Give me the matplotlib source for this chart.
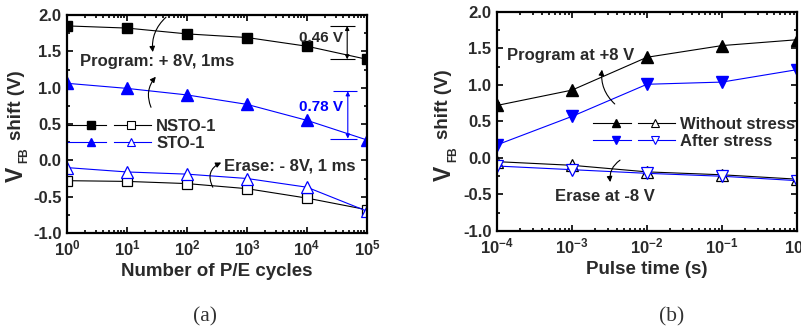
import numpy as np
import matplotlib.pyplot as plt
from matplotlib.lines import Line2D
from matplotlib.legend_handler import HandlerBase
from matplotlib.ticker import LogLocator, MultipleLocator, FuncFormatter, FormatStrFormatter, NullFormatter

plt.rcParams['font.family'] = ['Liberation Sans', 'DejaVu Sans']
plt.rcParams['font.weight'] = 'bold'
plt.rcParams['axes.labelweight'] = 'bold'
plt.rcParams['mathtext.fontset'] = 'custom'
plt.rcParams['mathtext.rm'] = 'Liberation Sans:bold'
plt.rcParams['mathtext.it'] = 'Liberation Sans:bold:italic'
plt.rcParams['mathtext.bf'] = 'Liberation Sans:bold'
plt.rcParams['axes.unicode_minus'] = False

TXT = '#2a2a2a'
BLUE = '#0000ff'

# (a) endurance
cycles = [1, 1e1, 1e2, 1e3, 1e4, 1e5]
nsto_prog = [1.85, 1.82, 1.74, 1.69, 1.57, 1.39]
nsto_erase = [-0.28, -0.29, -0.32, -0.39, -0.52, -0.68]
sto_prog = [1.06, 0.99, 0.90, 0.77, 0.55, 0.28]
sto_erase = [-0.10, -0.16, -0.19, -0.25, -0.37, -0.70]

# (b) pulse time
pulse = [1e-4, 1e-3, 1e-2, 1e-1, 1]
wo_prog = [0.72, 0.93, 1.38, 1.54, 1.62]
wo_erase = [-0.05, -0.10, -0.19, -0.23, -0.29]
as_prog = [0.18, 0.57, 1.01, 1.04, 1.21]
as_erase = [-0.11, -0.16, -0.21, -0.25, -0.31]


class PairHandler(HandlerBase):
    """legend entry: -filled- -- -open- like the original figure"""
    def create_artists(self, legend, orig_handle, xdescent, ydescent,
                       width, height, fontsize, trans):
        c = orig_handle.get_color()
        m = orig_handle.get_marker()
        y = height / 2 - ydescent
        x0 = -xdescent
        w = width
        s1 = Line2D([x0, x0 + 0.46 * w], [y, y], color=c, lw=0.8)
        s2 = Line2D([x0 + 0.55 * w, x0 + w], [y, y], color=c, lw=0.8)
        filled = Line2D([x0 + 0.28 * w], [y], marker=m, color=c, ms=5.5, ls='none')
        hollow = Line2D([x0 + 0.76 * w], [y], marker=m, mfc='white', mec=c,
                        mew=0.8, ms=5.5, ls='none')
        arts = [s1, s2, filled, hollow]
        for a in arts:
            a.set_transform(trans)
        return arts


def style_axes(ax):
    ax.set_xscale('log')
    ax.set_ylim(-1.0, 2.0)
    ax.yaxis.set_major_locator(MultipleLocator(0.5))
    ax.yaxis.set_minor_locator(MultipleLocator(0.25))
    ax.yaxis.set_major_formatter(FormatStrFormatter('%.1f'))
    ax.xaxis.set_major_locator(LogLocator(base=10, numticks=20))
    ax.xaxis.set_minor_locator(LogLocator(base=10, subs=np.arange(2, 10), numticks=20))
    ax.xaxis.set_minor_formatter(NullFormatter())
    ax.xaxis.set_major_formatter(FuncFormatter(lambda v, p: r'$\mathbf{10^{%d}}$' % round(np.log10(v))))
    ax.tick_params(which='both', direction='in', top=True, right=True, colors='k',
                   labelcolor=TXT, labelsize=12, width=1.2)
    ax.tick_params(which='major', length=4.5, pad=4)
    ax.tick_params(which='minor', length=2.5)
    for sp in ax.spines.values():
        sp.set_linewidth(1.6)


def vfb_label(ax, x, y_shift, y_v, x_fb, y_fb):
    # V (big) + FB (small subscript) + "shift (V)", as in the original
    kw = dict(transform=ax.transAxes, rotation=90, ha='center', va='center', color=TXT)
    ax.text(x, y_shift, 'shift (V)', fontsize=13.5, **kw)
    ax.text(x, y_v, 'V', fontsize=16.5, **kw)
    ax.text(x_fb, y_fb, 'FB', fontsize=8.5, **kw)


def curved_arrow(ax, tail, head, rad):
    ax.annotate('', xy=head, xytext=tail,
                arrowprops=dict(arrowstyle='-|>', color='k', lw=0.8,
                                mutation_scale=8, shrinkA=0, shrinkB=0,
                                connectionstyle='arc3,rad=%s' % rad))


fig = plt.figure(figsize=(8.01, 3.30), dpi=100)

# ---------------- (a) ----------------
ax1 = fig.add_axes([67 / 801, 1 - 233 / 330, 300 / 801, 218 / 330])
ax1.plot(cycles, nsto_prog, '-s', color='k', lw=0.8, ms=7)
ax1.plot(cycles, nsto_erase, '-s', color='k', lw=0.8, ms=7, mfc='white', mew=0.9)
ax1.plot(cycles, sto_prog, '-^', color=BLUE, lw=0.8, ms=9)
ax1.plot(cycles, sto_erase, '-^', color=BLUE, lw=0.8, ms=9, mfc='white', mew=0.9)
ax1.set_xlim(1, 1e5)
style_axes(ax1)
ax1.set_xlabel('Number of P/E cycles', fontsize=13.5, color=TXT, labelpad=3)
vfb_label(ax1, -0.168, 0.585, 0.268, -0.142, 0.358)

ax1.text(10 ** 0.22, 1.36, 'Program: + 8V, 1ms', fontsize=12, color=TXT, va='center')
ax1.text(10 ** 2.62, -0.08, 'Erase: - 8V, 1 ms', fontsize=12, color=TXT, va='center')
curved_arrow(ax1, (10 ** 1.65, 1.97), (10 ** 1.43, 1.49), 0.25)
curved_arrow(ax1, (10 ** 1.40, 0.73), (10 ** 1.48, 1.15), -0.3)
curved_arrow(ax1, (10 ** 2.43, -0.37), (10 ** 2.57, -0.03), -0.5)

# 0.46 V marker
ax1.hlines([nsto_prog[0], nsto_prog[-1]], 10 ** 4.38, 10 ** 4.8, color='k', lw=0.8)
ax1.annotate('', xy=(10 ** 4.67, nsto_prog[-1]), xytext=(10 ** 4.67, nsto_prog[0]),
             arrowprops=dict(arrowstyle='<|-|>', color='k', lw=0.8, mutation_scale=6,
                             shrinkA=0, shrinkB=0))
ax1.text(10 ** 4.6, 1.69, '0.46 V', fontsize=11, color=TXT, ha='right', va='center')

# 0.78 V marker
ax1.hlines(0.95, 10 ** 4.43, 10 ** 4.83, color=BLUE, lw=0.8)
ax1.hlines(0.30, 10 ** 4.38, 10 ** 4.83, color=BLUE, lw=0.8)
ax1.annotate('', xy=(10 ** 4.68, 0.30), xytext=(10 ** 4.68, 0.95),
             arrowprops=dict(arrowstyle='<|-|>', color=BLUE, lw=0.8, mutation_scale=6,
                             shrinkA=0, shrinkB=0))
ax1.text(10 ** 4.6, 0.73, '0.78 V', fontsize=11, color=BLUE, ha='right', va='center')

h1 = [Line2D([], [], color='k', marker='s', label='NSTO-1'),
      Line2D([], [], color=BLUE, marker='^', label='STO-1')]
ax1.legend(handles=h1, handler_map={Line2D: PairHandler()}, loc='center left',
           bbox_to_anchor=(0.003, 0.45), frameon=False, fontsize=12,
           handlelength=5.0, handletextpad=0.3, labelspacing=0.1,
           borderpad=0, borderaxespad=0, labelcolor=TXT)

# ---------------- (b) ----------------
ax2 = fig.add_axes([497 / 801, 1 - 231 / 330, 300 / 801, 219 / 330])
ax2.plot(pulse, wo_prog, '-^', color='k', lw=0.8, ms=8.5)
ax2.plot(pulse, wo_erase, '-^', color='k', lw=0.8, ms=8.5, mfc='white', mew=0.9)
ax2.plot(pulse, as_prog, '-v', color=BLUE, lw=0.8, ms=8.5)
ax2.plot(pulse, as_erase, '-v', color=BLUE, lw=0.8, ms=8.5, mfc='white', mew=0.9)
ax2.set_xlim(1e-4, 1)
style_axes(ax2)
ax2.set_xlabel('Pulse time (s)', fontsize=13.5, color=TXT, labelpad=3)
vfb_label(ax2, -0.177, 0.58, 0.265, -0.146, 0.349)

ax2.text(10 ** -3.87, 1.41, 'Program at +8 V', fontsize=12, color=TXT, va='center')
ax2.text(10 ** -3.23, -0.53, 'Erase at -8 V', fontsize=12, color=TXT, va='center')
curved_arrow(ax2, (10 ** -2.43, 0.74), (10 ** -2.6, 1.21), -0.25)
curved_arrow(ax2, (10 ** -2.36, -0.03), (10 ** -2.49, -0.33), 0.3)

h2 = [Line2D([], [], color='k', marker='^', label='Without stress'),
      Line2D([], [], color=BLUE, marker='v', label='After stress')]
ax2.legend(handles=h2, handler_map={Line2D: PairHandler()}, loc='center left',
           bbox_to_anchor=(0.32, 0.447), frameon=False, fontsize=12,
           handlelength=4.9, handletextpad=0.3, labelspacing=0.1,
           borderpad=0, borderaxespad=0, labelcolor=TXT)

fig.text(205 / 801, 1 - 317 / 330, '(a)', family=['Liberation Serif'], fontweight='normal',
         fontsize=15.5, color='#333333', ha='center', va='center')
fig.text(672 / 801, 1 - 317 / 330, '(b)', family=['Liberation Serif'], fontweight='normal',
         fontsize=15.5, color='#333333', ha='center', va='center')

fig.savefig('out.png', dpi=100)
